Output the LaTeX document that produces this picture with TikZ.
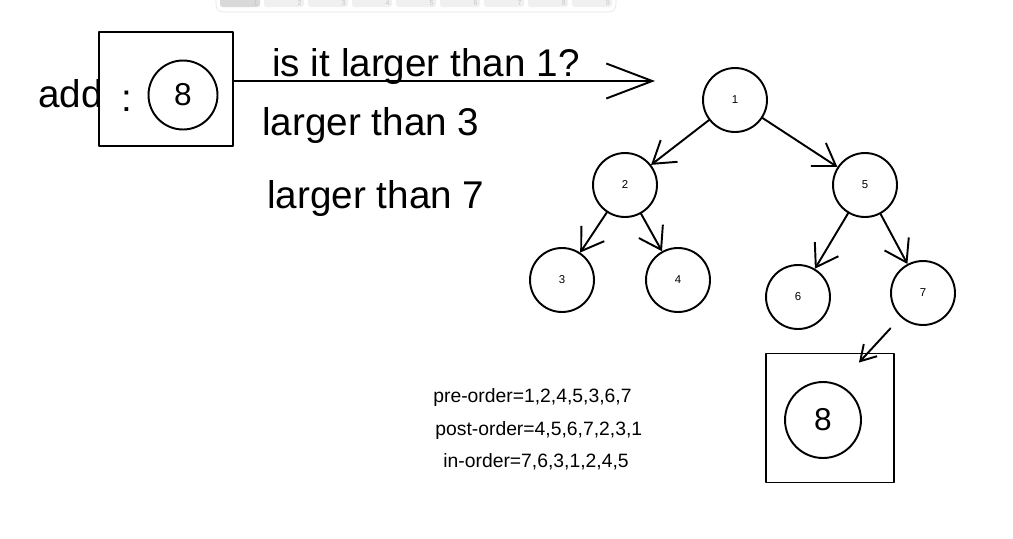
\documentclass[tikz,border=0pt]{standalone}
\usepackage{fontspec}
\setmainfont{Liberation Sans}
\usetikzlibrary{arrows.meta}
\tikzset{
    sketch/.style = {line width=1.1pt, line cap=round, line join=round},
    tree node/.style = {sketch, draw, circle, minimum size=1.28cm, inner sep=0pt, font=\fontsize{6.5}{7}\selectfont},
    tree edge/.style = {sketch, draw, -{Straight Barb[length=0.42cm, width=0.55cm]}},
    key node/.style = {sketch, draw, circle, inner sep=0pt, font=\fontsize{18}{20}\selectfont},
    big text/.style = {inner sep=0pt, anchor=base west, font=\fontsize{22}{26}\selectfont},
    order text/.style = {inner sep=0pt, anchor=base west, font=\fontsize{11}{13}\selectfont},
    tab/.style = {fill=gray!12, rounded corners=1.5pt},
    tab label/.style = {text=gray!45, inner sep=0pt, anchor=base east, font=\fontsize{4}{4}\selectfont},
}

\begin{document}
\begin{tikzpicture}[x=0.02cm, y=-0.02cm]
    \useasboundingbox (0,0) rectangle (1013,538);

    % page tabs
    \draw[draw=gray!20, fill=white, rounded corners=4pt] (216,-12) rectangle (616,12);
    \fill[tab, fill=gray!30] (220,-6) rectangle (260,7);
    \foreach \i in {2,...,9}
        \fill[tab] ({220+(\i-1)*44},-6) rectangle ({260+(\i-1)*44},7);
    \foreach \i in {1,...,9}
        \node[tab label] (tab\i) at ({258+(\i-1)*44},5) {\i};

    % key to add
    \node[sketch, draw, minimum width=2.68cm, minimum height=2.28cm] (addbox) at (166,89) {};
    \node[big text] (addlabel) at (38,107) {add};
    \node[big text] (colon) at (121,111) {:};
    \node[key node, minimum size=1.38cm] (key) at (183,95) {8};

    % comparisons
    \coordinate (qtip) at (655,81);
    \draw[sketch, -{Straight Barb[length=0.92cm, width=0.7cm]}] (addbox.east |- qtip) -- (qtip);
    \node[big text] (q1) at (272,76) {is it larger than 1?};
    \node[big text] (q3) at (262,135) {larger than 3};
    \node[big text] (q7) at (267,208) {larger than 7};

    % tree
    \node[tree node] (n1) at (735,100) {1};
    \node[tree node] (n2) at (625,185) {2};
    \node[tree node] (n5) at (865,185) {5};
    \node[tree node] (n3) at (562,280) {3};
    \node[tree node] (n4) at (678,280) {4};
    \node[tree node] (n6) at (798,297) {6};
    \node[tree node] (n7) at (923,293) {7};

    \draw[tree edge] (n1) -- (n2);
    \draw[tree edge] (n1) -- (n5);
    \draw[tree edge] (n2) -- (n3);
    \draw[tree edge] (n2) -- (n4);
    \draw[tree edge] (n5) -- (n6);
    \draw[tree edge] (n5) -- (n7);

    % new leaf
    \node[sketch, draw, minimum width=2.56cm, minimum height=2.58cm] (newbox) at (830,418) {};
    \node[key node, minimum size=1.52cm] (newkey) at (823,420) {8};
    \draw[sketch, shorten <=0.3cm, -{Straight Barb[length=0.3cm, width=0.36cm]}] (n7) -- ([xshift=-0.72cm, yshift=-0.2cm]newbox.north east);

    % traversals
    \node[order text] (preorder) at (433,402) {pre-order=1,2,4,5,3,6,7};
    \node[order text] (postorder) at (435,435) {post-order=4,5,6,7,2,3,1};
    \node[order text] (inorder) at (443,467) {in-order=7,6,3,1,2,4,5};
\end{tikzpicture}
\end{document}
